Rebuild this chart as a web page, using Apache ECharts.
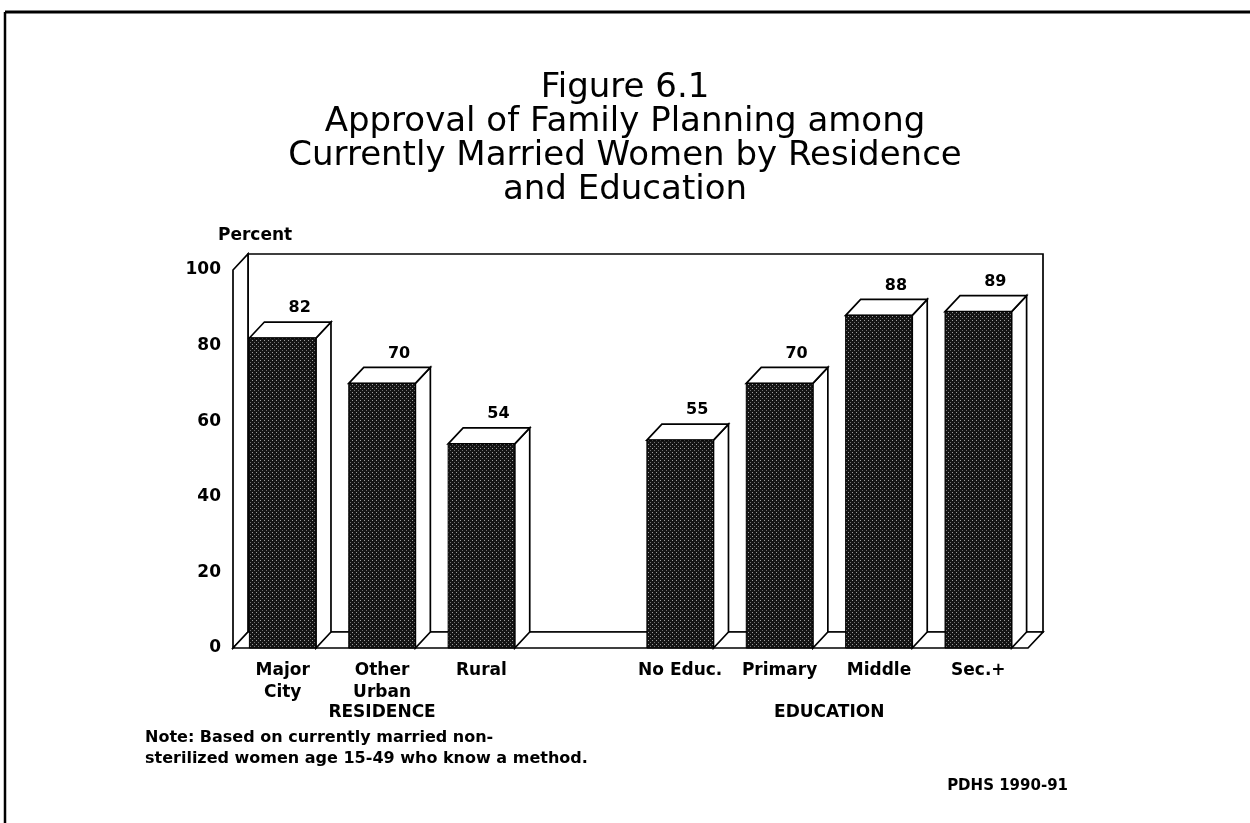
<!DOCTYPE html>
<html>
<head>
<meta charset="utf-8">
<script src="https://cdn.jsdelivr.net/npm/echarts@6/dist/echarts.min.js"></script>
<style>
html,body{margin:0;padding:0;background:#fff;}
#chart{width:1250px;height:823px;}
</style>
</head>
<body>
<div id="chart"></div>
<script>
// ---- data ----
const titleLines = ['Figure 6.1', 'Approval of Family Planning among', 'Currently Married Women by Residence', 'and Education'];
const categories = ['Major\nCity', 'Other\nUrban', 'Rural', '', 'No Educ.', 'Primary', 'Middle', 'Sec.+'];
const values = [82, 70, 54, null, 55, 70, 88, 89];
const yTicks = [0, 20, 40, 60, 80, 100];
const groupNames = ['RESIDENCE', 'EDUCATION'];
const groupSpans = [[0, 2], [4, 7]];
const yAxisName = 'Percent';
const noteLines = ['Note: Based on currently married non-', 'sterilized women age 15-49 who know a method.'];
const sourceText = 'PDHS 1990-91';

// ---- style ----
const DX = 15, DY = -16;
const FONT = '"DejaVu Sans", "Liberation Sans", Arial, sans-serif';
const SMALL = 'bold 17px ' + FONT;

// stipple pattern for bar fronts
const pc = document.createElement('canvas');
pc.width = 4; pc.height = 4;
const pctx = pc.getContext('2d');
pctx.fillStyle = '#141414'; pctx.fillRect(0, 0, 4, 4);
pctx.fillStyle = '#a0a0a0'; pctx.fillRect(0, 0, 1, 1);
pctx.fillStyle = '#707070'; pctx.fillRect(2, 2, 1, 1);
const pattern = { image: pc, repeat: 'repeat' };

const chart = echarts.init(document.getElementById('chart'), null, { renderer: 'canvas' });

function renderFrame(params, api) {
  const cs = params.coordSys;
  const x0 = cs.x, x1 = cs.x + cs.width, y0 = cs.y, yb = cs.y + cs.height;
  const st = { fill: '#fff', stroke: '#000', lineWidth: 1.7 };
  return {
    type: 'group',
    children: [
      { type: 'rect', shape: { x: x0 + DX, y: y0 + DY, width: x1 - x0, height: yb - y0 }, style: st },
      { type: 'polygon', shape: { points: [[x0, y0], [x0 + DX, y0 + DY], [x0 + DX, yb + DY], [x0, yb]] }, style: st },
      { type: 'polygon', shape: { points: [[x0, yb], [x0 + DX, yb + DY], [x1 + DX, yb + DY], [x1, yb]] }, style: st }
    ]
  };
}

function renderBar(params, api) {
  const i = api.value(0), v = api.value(1);
  const c = api.coord([i, v]);
  const b = api.coord([i, 0]);
  const w = api.size([1, 0])[0] * 0.67;
  const xl = c[0] - w / 2, xr = c[0] + w / 2, yt = c[1], yb = b[1];
  const st = { fill: '#fff', stroke: '#000', lineWidth: 1.7 };
  return {
    type: 'group',
    children: [
      { type: 'polygon', shape: { points: [[xr, yt], [xr + DX, yt + DY], [xr + DX, yb + DY], [xr, yb]] }, style: st },
      { type: 'polygon', shape: { points: [[xl, yt], [xl + DX, yt + DY], [xr + DX, yt + DY], [xr, yt]] }, style: st },
      { type: 'rect', shape: { x: xl, y: yt, width: w, height: yb - yt }, style: { fill: pattern, stroke: '#000', lineWidth: 1 } },
      { type: 'text', x: c[0] + 17, y: yt - 30, style: { text: String(v), font: 'bold 16px ' + FONT, fill: '#000', align: 'center', verticalAlign: 'middle' } }
    ]
  };
}

const barData = [];
values.forEach((v, i) => { if (v !== null) barData.push([i, v]); });

chart.setOption({
  animation: false,
  backgroundColor: '#fff',
  title: {
    text: titleLines.join('\n'),
    left: 'center',
    top: 66,
    textStyle: { fontFamily: FONT, fontSize: 34, fontWeight: 'normal', lineHeight: 34, color: '#000' }
  },
  grid: { left: 233, right: 222, top: 270, bottom: 175, containLabel: false },
  xAxis: {
    type: 'category',
    data: categories,
    axisLine: { show: false },
    axisTick: { show: false },
    axisLabel: { color: '#000', fontFamily: FONT, fontWeight: 'bold', fontSize: 17, lineHeight: 22, margin: 12, interval: 0 }
  },
  yAxis: {
    type: 'value',
    min: 0, max: 100, interval: 20,
    axisLine: { show: false },
    axisTick: { show: false },
    splitLine: { show: false },
    axisLabel: { color: '#000', fontFamily: FONT, fontWeight: 'bold', fontSize: 17, margin: 12, padding: [4, 0, 0, 0] }
  },
  series: [
    { type: 'custom', name: 'frame', renderItem: renderFrame, data: [[0, 0]], z: 1, silent: true },
    { type: 'custom', name: 'Approval', renderItem: renderBar, data: barData, z: 2, encode: { x: 0, y: 1 } }
  ]
});

// Annotations positioned using the chart's own axis conversion
const graphics = [
  { type: 'line', shape: { x1: 5, y1: 12, x2: 1250, y2: 12 }, style: { stroke: '#000', lineWidth: 3 } },
  { type: 'line', shape: { x1: 5, y1: 12, x2: 5, y2: 823 }, style: { stroke: '#000', lineWidth: 2.5 } },
  { type: 'text', x: 218, y: 236, style: { text: yAxisName, font: SMALL, fill: '#000', verticalAlign: 'middle' } },
  { type: 'text', x: 145, y: 727, style: { text: noteLines.join('\n'), font: 'bold 16px ' + FONT, lineHeight: 21, fill: '#000' } },
  { type: 'text', x: 1068, y: 786, style: { text: sourceText, font: 'bold 15px ' + FONT, fill: '#000', align: 'right', verticalAlign: 'middle' } }
];
groupNames.forEach((g, k) => {
  const a = chart.convertToPixel({ xAxisIndex: 0 }, groupSpans[k][0]);
  const b = chart.convertToPixel({ xAxisIndex: 0 }, groupSpans[k][1]);
  graphics.push({ type: 'text', x: (a + b) / 2, y: 713, style: { text: g, font: SMALL, fill: '#000', align: 'center', verticalAlign: 'middle' } });
});
chart.setOption({ graphic: graphics });
</script>
</body>
</html>
